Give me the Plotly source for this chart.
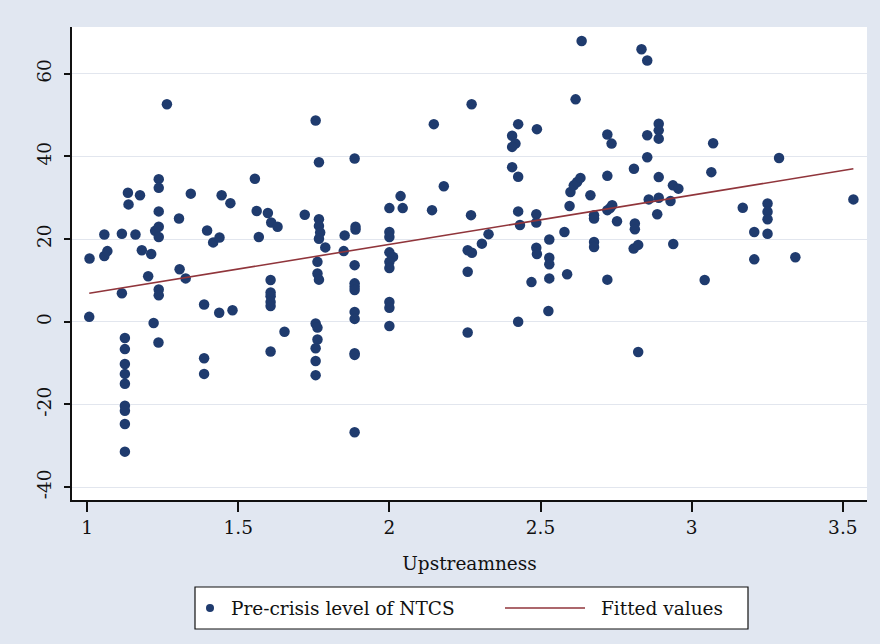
import plotly.graph_objects as go

# Upstreamness (x) and Pre-crisis level of NTCS (y)
upstreamness = [
    1.008, 1.007, 1.057, 1.067, 1.057, 1.115, 1.115, 1.125, 1.125, 1.125,
    1.125, 1.125, 1.125, 1.125, 1.125, 1.125, 1.135, 1.137, 1.160, 1.175,
    1.181, 1.202, 1.212, 1.220, 1.225, 1.236, 1.237, 1.237, 1.237, 1.237,
    1.237, 1.237, 1.237, 1.264, 1.304, 1.306, 1.326, 1.343, 1.387, 1.387,
    1.387, 1.397, 1.417, 1.437, 1.438, 1.445, 1.474, 1.481, 1.555, 1.561,
    1.568, 1.598, 1.607, 1.607, 1.607, 1.607, 1.607, 1.607, 1.609, 1.630,
    1.653, 1.720, 1.756, 1.767, 1.767, 1.767, 1.771, 1.767, 1.762, 1.762,
    1.767, 1.756, 1.762, 1.762, 1.756, 1.756, 1.756, 1.788, 1.849, 1.852,
    1.885, 1.888, 1.888, 1.885, 1.885, 1.885, 1.885, 1.885, 1.885, 1.885,
    1.885, 1.885,
    2.000, 2.000, 2.000, 2.000, 2.012, 2.000, 2.000, 2.000, 2.000, 2.000,
    2.037, 2.044, 2.141, 2.147, 2.180, 2.259, 2.259, 2.259, 2.270, 2.272,
    2.273, 2.306, 2.328, 2.406, 2.417, 2.406, 2.406, 2.426, 2.426, 2.426,
    2.432, 2.426, 2.470, 2.486, 2.486, 2.486, 2.488, 2.488, 2.526, 2.529,
    2.529, 2.529, 2.529, 2.579, 2.588, 2.596, 2.599, 2.610, 2.621, 2.632,
    2.616, 2.636, 2.665, 2.677, 2.677, 2.677, 2.677, 2.721, 2.721, 2.721,
    2.730, 2.737, 2.721, 2.735, 2.753, 2.808, 2.809, 2.812, 2.812, 2.823,
    2.823, 2.834, 2.853, 2.853, 2.853, 2.858, 2.886, 2.891, 2.891, 2.891,
    2.891, 2.891, 2.930, 2.938, 2.939, 2.956, 3.043, 3.065, 3.071, 3.169,
    3.207, 3.207, 3.251, 3.251, 3.251, 3.251, 3.289, 3.343, 3.535,
]
ntcs = [
    15.3, 1.2, 15.9, 17.1, 21.1, 21.3, 6.9, -3.9, -6.6, -10.2,
    -12.6, -15.0, -20.3, -21.5, -24.7, -31.4, 31.2, 28.4, 21.1, 30.6,
    17.3, 11.0, 16.4, -0.3, 22.0, -5.0, 34.5, 32.4, 26.7, 23.0,
    20.5, 7.8, 6.4, 52.6, 25.0, 12.7, 10.5, 31.0, 4.2, -8.8,
    -12.6, 22.1, 19.2, 2.2, 20.4, 30.6, 28.7, 2.8, 34.6, 26.8,
    20.5, 26.3, 10.1, 7.1, 6.2, 4.8, 3.8, -7.2, 24.0, 23.0,
    -2.4, 25.9, 48.7, 38.6, 24.8, 23.2, 21.6, 20.1, 14.5, 11.7,
    10.2, -0.4, -1.4, -4.3, -6.4, -9.5, -12.9, 18.0, 17.1, 20.9,
    39.5, 23.0, 22.3, 13.7, 9.3, 8.5, 7.7, 2.4, 0.7, -7.6,
    -8.0, -26.7,
    27.5, 21.7, 20.5, 16.8, 15.7, 14.5, 13.0, 4.8, 3.4, -1.0,
    30.4, 27.5, 27.0, 47.8, 32.8, 17.3, 12.1, -2.6, 25.8, 52.6,
    16.7, 18.9, 21.2, 45.0, 43.1, 42.3, 37.4, 47.8, 35.1, 26.7,
    23.4, 0.0, 9.6, 26.0, 24.0, 17.9, 16.4, 46.6, 2.6, 19.9,
    15.5, 13.9, 10.5, 21.7, 11.5, 28.0, 31.4, 33.0, 33.8, 34.8,
    53.8, 67.9, 30.6, 25.8, 25.0, 19.3, 18.1, 45.3, 35.3, 27.0,
    27.5, 28.2, 10.2, 43.1, 24.3, 17.7, 37.0, 23.8, 22.4, 18.6,
    -7.3, 65.9, 63.2, 45.1, 39.8, 29.6, 26.0, 47.9, 46.3, 44.3,
    35.0, 30.0, 29.2, 33.0, 18.8, 32.2, 10.1, 36.2, 43.2, 27.6,
    21.7, 15.1, 28.6, 26.6, 24.8, 21.3, 39.6, 15.6, 29.6,
]

# Fitted values (endpoints)
fit_x = [1.007, 3.535]
fit_y = [6.9, 37.0]

x_ticks = [1, 1.5, 2, 2.5, 3, 3.5]
x_tick_labels = ["1", "1.5", "2", "2.5", "3", "3.5"]
y_ticks = [-40, -20, 0, 20, 40, 60]
y_tick_labels = ["-40", "-20", "0", "20", "40", "60"]
legend_labels = ["Pre-crisis level of NTCS", "Fitted values"]

NAVY = "#1f3b6e"
MAROON = "#90353b"
BG = "#e1e7f1"
FONT = "DejaVu Serif"
FS = 18.5

fig = go.Figure()
fig.add_trace(go.Scatter(
    x=upstreamness, y=ntcs, mode="markers",
    marker=dict(color=NAVY, size=10.5, line=dict(width=0)),
    name=legend_labels[0], showlegend=False,
))
fig.add_trace(go.Scatter(
    x=fit_x, y=fit_y, mode="lines",
    line=dict(color=MAROON, width=1.6),
    name=legend_labels[1], showlegend=False,
))

# --- legend box (paper coordinates relative to plot area) ---
L, R, T, B = 72, 867, 27, 500
W, H = R - L, B - T
def px(x):
    return (x - L) / W
def py(y):
    return (B - y) / H

ly = 608
shapes = [
    dict(type="rect", xref="paper", yref="paper",
         x0=px(195), x1=px(748), y0=py(629), y1=py(587),
         fillcolor="white", line=dict(color="#111111", width=1.2), layer="above"),
    dict(type="circle", xref="paper", yref="paper",
         x0=px(206), x1=px(214), y0=py(ly + 4), y1=py(ly - 4),
         fillcolor=NAVY, line=dict(width=0), layer="above"),
    dict(type="line", xref="paper", yref="paper",
         x0=px(505), x1=px(585), y0=py(ly), y1=py(ly),
         line=dict(color=MAROON, width=1.6), layer="above"),
]
annotations = [
    dict(text=legend_labels[0], xref="paper", yref="paper",
         x=px(229), y=py(ly), xanchor="left", yanchor="middle",
         showarrow=False, font=dict(size=FS)),
    dict(text=legend_labels[1], xref="paper", yref="paper",
         x=px(599), y=py(ly), xanchor="left", yanchor="middle",
         showarrow=False, font=dict(size=FS)),
]

fig.update_layout(
    width=880, height=644,
    margin=dict(l=L, r=880 - R, t=T, b=644 - B),
    paper_bgcolor=BG, plot_bgcolor="white",
    font=dict(family=FONT, size=FS, color="#111111"),
    showlegend=False,
    shapes=shapes, annotations=annotations,
    xaxis=dict(
        range=[0.95, 3.58], tickvals=x_ticks, ticktext=x_tick_labels,
        showgrid=False, zeroline=False,
        showline=True, linecolor="#111111", linewidth=1.5,
        ticks="outside", ticklen=10, tickwidth=1.5, tickcolor="#111111",
        tickfont=dict(size=FS),
        title=dict(text="Upstreamness", font=dict(size=FS), standoff=20),
    ),
    yaxis=dict(
        range=[-43.1, 71.3], tickvals=y_ticks, ticktext=y_tick_labels,
        showgrid=True, gridcolor="#e2e6ee", gridwidth=1.2, zeroline=False,
        showline=True, linecolor="#111111", linewidth=1.5,
        ticks="outside", ticklen=6, tickwidth=1.5, tickcolor="#111111",
        tickangle=-90, tickfont=dict(size=FS), ticklabelstandoff=6,
    ),
)

fig.write_html(
    "out.html",
    config={"displayModeBar": False},
    post_script="document.body.style.margin='0px';"
                "document.body.style.background='" + BG + "';",
)
